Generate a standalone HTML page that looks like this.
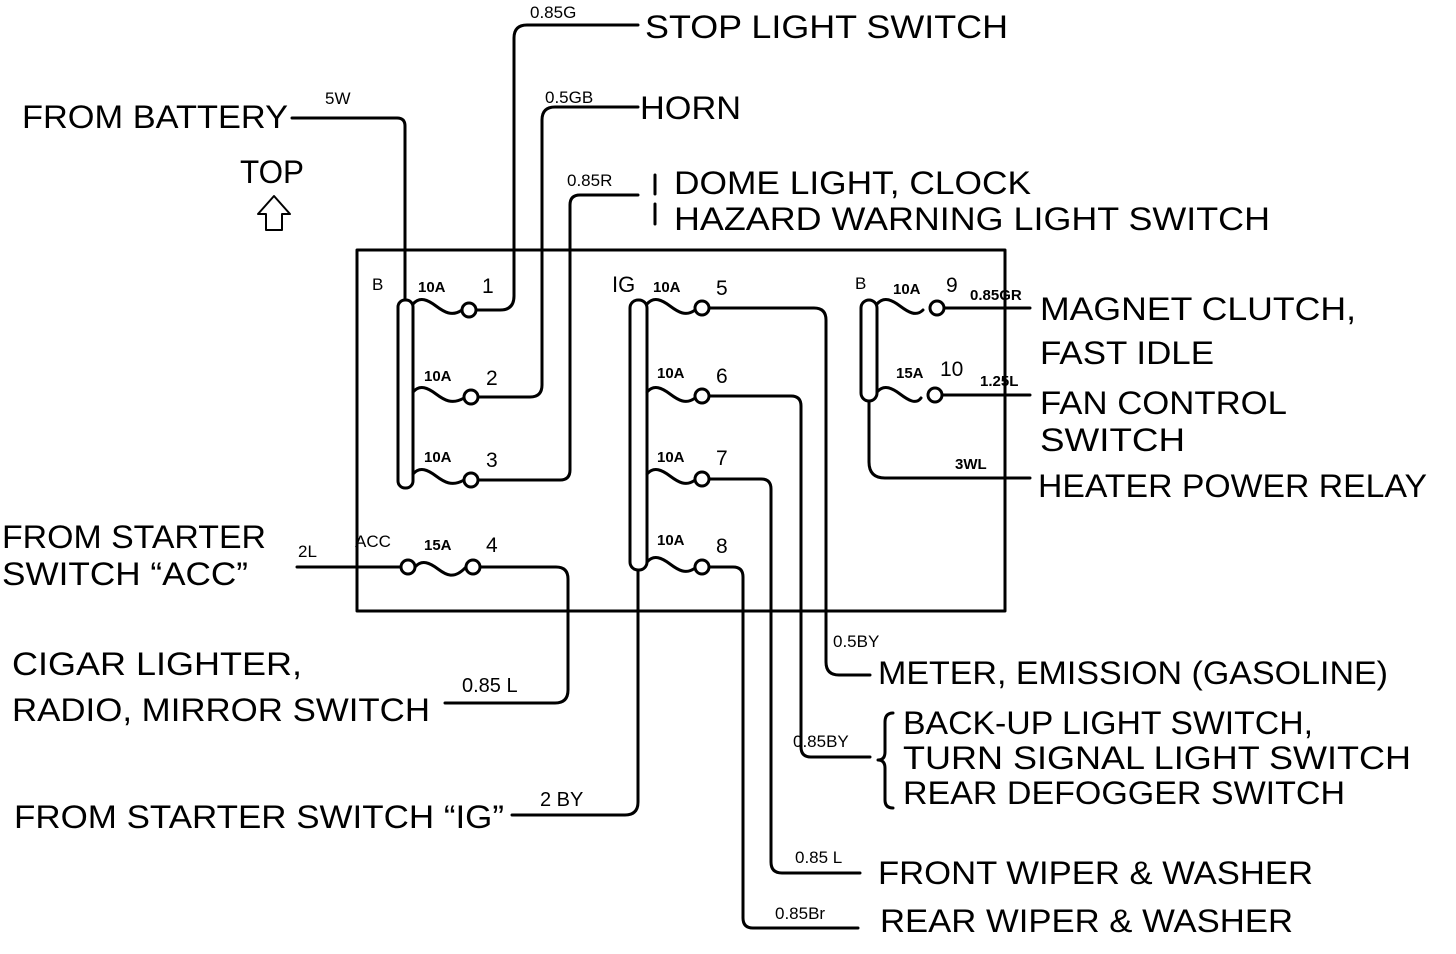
<!DOCTYPE html>
<html><head><style>
body{margin:0;background:#fff;}
svg{display:block;}
text{font-family:"Liberation Sans",sans-serif;fill:#000;}
.b{font-size:32px;}
.s{font-size:17px;}
.xs{font-size:15px;font-weight:bold;}
</style></head><body>
<svg width="1456" height="954" viewBox="0 0 1456 954" xmlns="http://www.w3.org/2000/svg">
<g fill="none" stroke="#000" stroke-width="3" stroke-linecap="round" stroke-linejoin="round">
<rect x="357" y="250" width="648" height="361"/>
<rect x="398" y="300" width="15" height="188" rx="7"/>
<rect x="630" y="300" width="17" height="270" rx="8"/>
<rect x="861" y="300" width="16" height="101" rx="8"/>
<path d="M292,118 H397 Q405,118 405,126 V300"/>
<path d="M413,304 C420,296 428,300 436,306 S452,317 462,310"/><circle cx="469" cy="310" r="7"/>
<path d="M476,310 H500 Q514,310 514,296 V38 Q514,25 527,25 H638"/>
<path d="M413,392 C420,384 428,388 436,394 S452,405 464,398"/><circle cx="471" cy="397" r="7"/>
<path d="M478,397 H530 Q542,397 542,385 V120 Q542,107 555,107 H638"/>
<path d="M413,474 C420,466 428,470 436,476 S452,487 464,480"/><circle cx="471" cy="480" r="7"/>
<path d="M478,480 H560 Q570,480 570,470 V205 Q570,195 580,195 H638"/>
<path d="M297,567 H401"/><circle cx="408" cy="567" r="7"/>
<path d="M415,567 C422,559 430,563 438,569 S454,580 466,567"/><circle cx="473" cy="567" r="7"/>
<path d="M480,567 H556 Q568,567 568,579 V690 Q568,703 555,703 H445"/>
<path d="M638,570 V802 Q638,815 625,815 H512"/>
<path d="M647,304 C654,296 662,300 670,306 S686,317 695,310"/><circle cx="702" cy="308" r="7"/>
<path d="M709,308 H814 Q826,308 826,320 V662 Q826,675 839,675 H870"/>
<path d="M647,392 C654,384 662,388 670,394 S686,405 695,398"/><circle cx="702" cy="396" r="7"/>
<path d="M709,396 H791 Q801,396 801,406 V747 Q801,757 811,757 H870"/>
<path d="M647,474 C654,466 662,470 670,476 S686,487 695,480"/><circle cx="702" cy="479" r="7"/>
<path d="M709,479 H761 Q771,479 771,489 V862 Q771,873 782,873 H860"/>
<path d="M647,562 C654,554 662,558 670,564 S686,575 695,568"/><circle cx="702" cy="567" r="7"/>
<path d="M709,567 H733 Q743,567 743,577 V918 Q743,928 753,928 H858"/>
<path d="M877,304 C884,296 892,300 900,306 S916,317 923,310"/><circle cx="937" cy="308" r="7"/>
<path d="M944,308 H1030"/>
<path d="M877,392 C884,384 892,388 900,394 S916,405 921,398"/><circle cx="935" cy="395" r="7"/>
<path d="M942,395 H1030"/>
<path d="M869,401 V462 Q869,478 885,478 H1030"/>
<path d="M655,175 V194 M655,204 V224"/>
<path d="M893,713 Q885,713 885,722 V752 Q885,760 878,760 Q885,760 885,768 V800 Q885,808 893,808"/>
<path d="M266,230 V214 H258 L274,196 L290,214 H282 V230 Z" stroke-width="2"/>
</g>
<text class="b" x="22" y="128" textLength="266" lengthAdjust="spacingAndGlyphs">FROM BATTERY</text>
<text class="b" x="240" y="183" textLength="64" lengthAdjust="spacingAndGlyphs">TOP</text>
<text class="b" x="645" y="38" textLength="363" lengthAdjust="spacingAndGlyphs">STOP LIGHT SWITCH</text>
<text class="b" x="640" y="119" textLength="101" lengthAdjust="spacingAndGlyphs">HORN</text>
<text class="b" x="674" y="194" textLength="357" lengthAdjust="spacingAndGlyphs">DOME LIGHT, CLOCK</text>
<text class="b" x="674" y="230" textLength="596" lengthAdjust="spacingAndGlyphs">HAZARD WARNING LIGHT SWITCH</text>
<text class="b" x="1040" y="320" textLength="316" lengthAdjust="spacingAndGlyphs">MAGNET CLUTCH,</text>
<text class="b" x="1040" y="364" textLength="174" lengthAdjust="spacingAndGlyphs">FAST IDLE</text>
<text class="b" x="1040" y="414" textLength="247" lengthAdjust="spacingAndGlyphs">FAN CONTROL</text>
<text class="b" x="1040" y="451" textLength="145" lengthAdjust="spacingAndGlyphs">SWITCH</text>
<text class="b" x="1038" y="497" textLength="389" lengthAdjust="spacingAndGlyphs">HEATER POWER RELAY</text>
<text class="b" x="2" y="548" textLength="264" lengthAdjust="spacingAndGlyphs">FROM STARTER</text>
<text class="b" x="2" y="585" textLength="246" lengthAdjust="spacingAndGlyphs">SWITCH “ACC”</text>
<text class="b" x="12" y="675" textLength="290" lengthAdjust="spacingAndGlyphs">CIGAR LIGHTER,</text>
<text class="b" x="12" y="721" textLength="418" lengthAdjust="spacingAndGlyphs">RADIO, MIRROR SWITCH</text>
<text class="b" x="14" y="828" textLength="490" lengthAdjust="spacingAndGlyphs">FROM STARTER SWITCH “IG”</text>
<text class="b" x="878" y="684" textLength="510" lengthAdjust="spacingAndGlyphs">METER, EMISSION (GASOLINE)</text>
<text class="b" x="903" y="734" textLength="410" lengthAdjust="spacingAndGlyphs">BACK-UP LIGHT SWITCH,</text>
<text class="b" x="903" y="769" textLength="508" lengthAdjust="spacingAndGlyphs">TURN SIGNAL LIGHT SWITCH</text>
<text class="b" x="903" y="804" textLength="442" lengthAdjust="spacingAndGlyphs">REAR DEFOGGER SWITCH</text>
<text class="b" x="878" y="884" textLength="435" lengthAdjust="spacingAndGlyphs">FRONT WIPER &amp; WASHER</text>
<text class="b" x="880" y="932" textLength="413" lengthAdjust="spacingAndGlyphs">REAR WIPER &amp; WASHER</text>
<text class="s" x="325" y="104">5W</text>
<text class="s" x="530" y="18">0.85G</text>
<text class="s" x="545" y="103">0.5GB</text>
<text class="s" x="567" y="186">0.85R</text>
<text class="s" x="372" y="290">B</text>
<text class="xs" x="418" y="292">10A</text>
<text x="482" y="293" style="font-size:21px">1</text>
<text class="xs" x="424" y="381">10A</text>
<text x="486" y="385" style="font-size:21px">2</text>
<text class="xs" x="424" y="462">10A</text>
<text x="486" y="467" style="font-size:21px">3</text>
<text x="612" y="292" style="font-size:22px">IG</text>
<text class="xs" x="653" y="292">10A</text>
<text x="716" y="295" style="font-size:21px">5</text>
<text class="xs" x="657" y="378">10A</text>
<text x="716" y="383" style="font-size:21px">6</text>
<text class="xs" x="657" y="462">10A</text>
<text x="716" y="465" style="font-size:21px">7</text>
<text class="xs" x="657" y="545">10A</text>
<text x="716" y="553" style="font-size:21px">8</text>
<text class="s" x="855" y="289">B</text>
<text class="xs" x="893" y="294">10A</text>
<text x="946" y="292" style="font-size:21px">9</text>
<text class="xs" x="970" y="300">0.85GR</text>
<text class="xs" x="896" y="378">15A</text>
<text x="940" y="376" style="font-size:21px">10</text>
<text class="xs" x="980" y="386">1.25L</text>
<text class="xs" x="955" y="469">3WL</text>
<text class="s" x="298" y="557">2L</text>
<text class="s" x="355" y="547">ACC</text>
<text class="xs" x="424" y="550">15A</text>
<text x="486" y="552" style="font-size:21px">4</text>
<text x="462" y="692" style="font-size:20px">0.85 L</text>
<text x="540" y="806" style="font-size:20px">2 BY</text>
<text class="s" x="833" y="647">0.5BY</text>
<text class="s" x="793" y="747">0.85BY</text>
<text class="s" x="795" y="863">0.85 L</text>
<text class="s" x="775" y="919">0.85Br</text>
</svg>
</body></html>
